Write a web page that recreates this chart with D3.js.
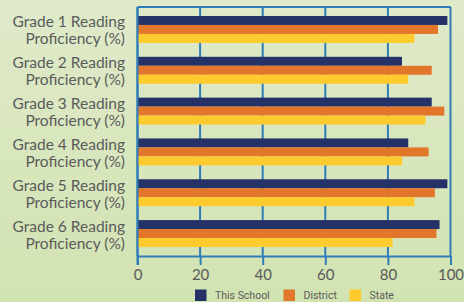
<!DOCTYPE html>
<html>
<head>
<meta charset="utf-8">
<script src="https://cdn.jsdelivr.net/npm/d3@7"></script>
<style>
  body { margin: 0; overflow: hidden; }
  svg { display: block; }
</style>
</head>
<body>
<div id="content"></div>
<script>
// data
let grades = ["Grade 1", "Grade 2", "Grade 3", "Grade 4", "Grade 5", "Grade 6"];
let seriesNames = ["This School", "District", "State"];
let school = [99, 84.5, 94, 86.5, 99, 96.5];
let district = [96, 94, 98, 93, 95, 95.5];
let state = [88.5, 86.5, 92, 84.5, 88.5, 81.5];
let xTicks = [0, 20, 40, 60, 80, 100];

let colors = ["#253268", "#e2762b", "#fecb2f"];
let width = 464, height = 302;

let svg = d3.select("#content")
    .append("svg")
    .attr("width", width)
    .attr("height", height);

// background gradient
let grad = svg.append("defs").append("linearGradient")
    .attr("id", "bg")
    .attr("x1", 0).attr("y1", 0).attr("x2", 0).attr("y2", 1);
grad.append("stop").attr("offset", "0%").attr("stop-color", "#dfeac9");
grad.append("stop").attr("offset", "100%").attr("stop-color", "#d2e3b2");
svg.append("rect").attr("width", width).attr("height", height).attr("fill", "url(#bg)");

let x = d3.scaleLinear().domain([0, 100]).range([137.5, 450.5]);
let y = d3.scaleBand().domain(grades).range([7, 256])
    .paddingInner(0.34).paddingOuter(0.22);
let ySub = d3.scaleBand().domain(seriesNames).range([0, y.bandwidth()]);

let blue = "#2f7cb7";

// gridlines
svg.append("g")
    .selectAll("line")
    .data(xTicks)
    .enter()
    .append("line")
    .attr("x1", d => x(d))
    .attr("x2", d => x(d))
    .attr("y1", 7)
    .attr("y2", 256)
    .attr("stroke", blue)
    .attr("stroke-width", 2);

// top frame line
svg.append("line")
    .attr("x1", x(0)).attr("x2", x(100))
    .attr("y1", 7).attr("y2", 7)
    .attr("stroke", blue)
    .attr("stroke-width", 2);

// bars
let rows = grades.map((g, i) => ({ grade: g, values: [school[i], district[i], state[i]] }));
let groups = svg.append("g")
    .selectAll("g")
    .data(rows)
    .enter()
    .append("g")
    .attr("transform", d => "translate(0," + y(d.grade) + ")");

groups.selectAll("rect")
    .data(d => d.values.map((v, j) => ({ name: seriesNames[j], value: v, color: colors[j] })))
    .enter()
    .append("rect")
    .attr("x", x(0))
    .attr("y", d => ySub(d.name))
    .attr("width", d => x(d.value) - x(0))
    .attr("height", ySub.bandwidth())
    .attr("fill", d => d.color);

// left axis line drawn over bars
svg.append("line")
    .attr("x1", x(0)).attr("x2", x(0))
    .attr("y1", 7).attr("y2", 265)
    .attr("stroke", blue)
    .attr("stroke-width", 2);

// bottom axis
let xAxis = svg.append("g")
    .attr("transform", "translate(0,256)")
    .call(d3.axisBottom(x).tickValues(xTicks).tickSize(9).tickSizeOuter(0).tickPadding(4));
xAxis.selectAll("path, line").attr("stroke", blue).attr("stroke-width", 2);
xAxis.selectAll("text")
    .attr("fill", "#595959")
    .style("font", "15px Lato");

// category labels
let labels = svg.append("g")
    .selectAll("text")
    .data(grades)
    .enter()
    .append("text")
    .attr("text-anchor", "end")
    .attr("x", 125)
    .attr("y", d => y(d) + y.bandwidth() / 2 - 2)
    .attr("fill", "#5b5b5b")
    .style("font", "15.5px Lato");
labels.append("tspan").attr("x", 125).text(d => d + " Reading");
labels.append("tspan").attr("x", 125).attr("dy", 17).text("Proficiency (%)");

// legend
let legendX = [195, 283.5, 349.5];
let legend = svg.append("g")
    .selectAll("g")
    .data(seriesNames)
    .enter()
    .append("g")
    .attr("transform", (d, i) => "translate(" + legendX[i] + ",289.5)");
legend.append("rect")
    .attr("width", 11.5)
    .attr("height", 11.5)
    .attr("fill", (d, i) => colors[i]);
legend.append("text")
    .attr("x", 20)
    .attr("y", 9.5)
    .attr("fill", "#5b5b5b")
    .style("font", "10.5px Roboto")
    .text(d => d);
</script>
</body>
</html>
